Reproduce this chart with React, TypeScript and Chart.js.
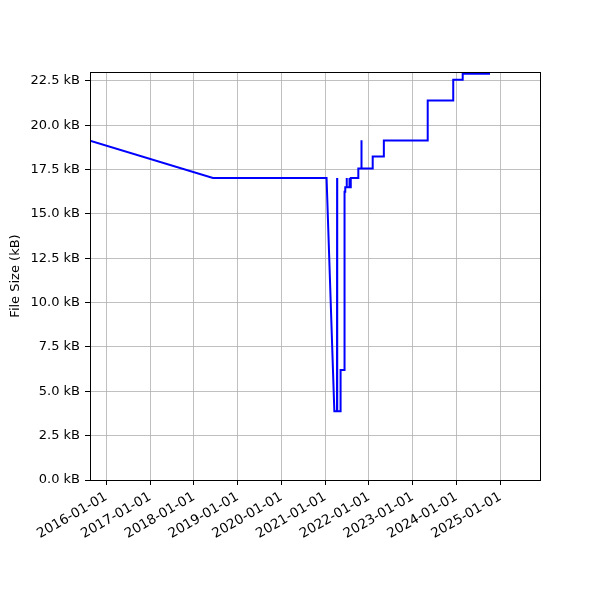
import React, { useEffect, useRef } from "react";
import { Chart, registerables } from "chart.js";

Chart.register(...registerables);

const dates: string[] = [
  "2015-08-18", "2018-06-09", "2021-01-12", "2021-03-18", "2021-04-09", "2021-04-10",
  "2021-04-11", "2021-05-08", "2021-05-09", "2021-06-10", "2021-06-11", "2021-06-16",
  "2021-06-17", "2021-06-28", "2021-06-29", "2021-06-30", "2021-07-21", "2021-07-22",
  "2021-07-23", "2021-08-01", "2021-08-02", "2021-10-03", "2021-10-04", "2021-10-29",
  "2021-10-30", "2021-10-31", "2022-01-31", "2022-02-01", "2022-05-04", "2022-05-05",
  "2023-05-05", "2023-05-06", "2023-12-04", "2023-12-05", "2024-02-21", "2024-02-22",
  "2024-10-07",
];

const sizesKB: number[] = [
  19.12, 17.03, 17.03, 3.87, 3.87, 17.03,
  3.87, 3.87, 6.2, 6.2, 16.25, 16.25,
  16.5, 16.5, 17.03, 16.5, 16.5, 17.03,
  16.5, 16.5, 17.03, 17.03, 17.56, 17.56,
  19.15, 17.56, 17.56, 18.24, 18.24, 19.14,
  19.14, 21.4, 21.4, 22.56, 22.56, 22.9,
  22.9,
];

const xTickYears: number[] = [2016, 2017, 2018, 2019, 2020, 2021, 2022, 2023, 2024, 2025];
const yTicks: number[] = [0, 2.5, 5, 7.5, 10, 12.5, 15, 17.5, 20, 22.5];

const xMinDate = "2015-08-18";
const xMaxDate = "2025-11-28";
const yMax = 23.0;

function toTs(s: string): number {
  const [y, m, d] = s.split("-").map(Number);
  return Date.UTC(y, m - 1, d);
}
function pad(n: number): string {
  return n < 10 ? "0" + n : String(n);
}
function fmtDate(ts: number): string {
  const d = new Date(ts);
  return `${d.getUTCFullYear()}-${pad(d.getUTCMonth() + 1)}-${pad(d.getUTCDate())}`;
}

const FONT = "'DejaVu Sans', sans-serif";

const framePlugin = {
  id: "frame",
  afterDraw(chart: any) {
    const { ctx, chartArea } = chart;
    ctx.save();
    ctx.strokeStyle = "#000";
    ctx.lineWidth = 1;
    ctx.strokeRect(
      Math.round(chartArea.left) + 0.5,
      Math.round(chartArea.top) + 0.5,
      Math.round(chartArea.right - chartArea.left),
      Math.round(chartArea.bottom - chartArea.top)
    );
    ctx.restore();
  },
};

export default function App() {
  const ref = useRef<HTMLCanvasElement | null>(null);

  useEffect(() => {
    if (!ref.current) return;
    const data = dates.map((d, i) => ({ x: toTs(d), y: sizesKB[i] }));
    const chart = new Chart(ref.current, {
      type: "line",
      data: {
        datasets: [
          {
            data,
            borderColor: "#0000ff",
            borderWidth: 2,
            pointRadius: 0,
            tension: 0,
            fill: false,
          },
        ],
      },
      plugins: [framePlugin],
      options: {
        animation: false,
        responsive: false,
        devicePixelRatio: 1,
        layout: { padding: { top: 72, right: 60, left: 0, bottom: 0 } },
        plugins: { legend: { display: false }, tooltip: { enabled: false } },
        scales: {
          x: {
            type: "linear",
            min: toTs(xMinDate),
            max: toTs(xMaxDate),
            afterBuildTicks: (scale: any) => {
              scale.ticks = xTickYears.map((y) => ({ value: Date.UTC(y, 0, 1) }));
            },
            afterFit: (scale: any) => {
              scale.height = 120;
            },
            grid: { color: "#b0b0b0", lineWidth: 0.8, tickLength: 5, tickColor: "#000", tickWidth: 1 },
            border: { display: false },
            ticks: {
              autoSkip: false,
              minRotation: 30,
              maxRotation: 30,
              padding: 4,
              color: "#000",
              font: { family: FONT, size: 13.5 },
              callback: (v: any) => fmtDate(Number(v)),
            },
          },
          y: {
            type: "linear",
            min: 0,
            max: yMax,
            afterBuildTicks: (scale: any) => {
              scale.ticks = yTicks.map((v) => ({ value: v }));
            },
            afterFit: (scale: any) => {
              scale.width = 90;
            },
            grid: { color: "#b0b0b0", lineWidth: 0.8, tickLength: 5, tickColor: "#000", tickWidth: 1 },
            border: { display: false },
            title: {
              display: true,
              text: "File Size (kB)",
              color: "#000",
              font: { family: FONT, size: 13 },
              padding: { top: 8, bottom: 0 },
            },
            ticks: {
              padding: 5,
              color: "#000",
              font: { family: FONT, size: 13 },
              callback: (v: any) => Number(v).toFixed(1) + " kB",
            },
          },
        },
      },
    });
    return () => chart.destroy();
  }, []);

  return (
    <div style={{ position: "absolute", left: 0, top: 0, width: 600, height: 600, background: "#fff" }}>
      <canvas ref={ref} width={600} height={600} style={{ width: 600, height: 600 }} />
    </div>
  );
}
